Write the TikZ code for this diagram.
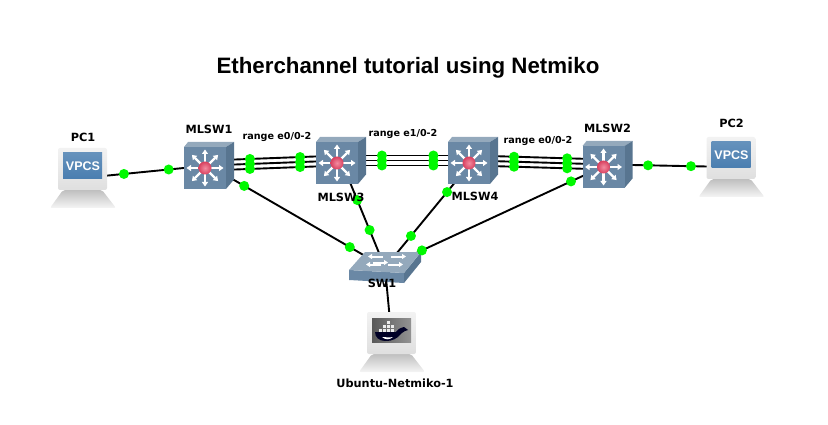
\documentclass[tikz,border=0pt]{standalone}
\usepackage{fontspec}
\setmainfont{DejaVu Sans}
\newfontfamily\titlefont{Liberation Sans}
\usetikzlibrary{arrows.meta,positioning,backgrounds}
\definecolor{linkgreen}{HTML}{00F800}
\definecolor{swfront}{HTML}{6A88A5}
\definecolor{swtop}{HTML}{94A9BC}
\definecolor{swside}{HTML}{587590}
\definecolor{pcscreen}{HTML}{4A7EB0}
\definecolor{redin}{HTML}{F28CA0}
\definecolor{redout}{HTML}{D8405F}
\newcommand{\mlswface}{%
  \begin{scope}[shift={(path picture bounding box.center)}]
    \fill[swtop] (-25,-18.5) -- (-21,-23.5) -- (25,-23.5) -- (17,-18.5) -- cycle;
    \fill[swside] (17,-18.5) -- (25,-23.5) -- (25,14) -- (17,23.5) -- cycle;
    \fill[swfront] (-25,-18.5) rectangle (17,23.5);
    \foreach \ang in {0,45,...,315}
      \draw[white,line width=2.4pt,-{Triangle[length=4.5pt,width=6pt]}] (-4,2.5) -- ++(\ang:18.5);
    \shade[inner color=redin,outer color=redout] (-4,2.5) circle (6.5);
  \end{scope}}
\newcommand{\swface}{%
  \begin{scope}[shift={(path picture bounding box.center)}]
    \fill[swfront] (-36,2.5) -- (19,5.5) -- (19,15.5) -- (-36,12.5) -- cycle;
    \fill[swside] (19,5.5) -- (36,-15.5) -- (36,-5.5) -- (19,15.5) -- cycle;
    \fill[swtop] (-20,-15.5) -- (36,-15.5) -- (19,5.5) -- (-36,2.5) -- cycle;
    \foreach \sx/\sy in {-12/-5,6/-11,3/-3}
      \draw[white,line width=2pt,-{Triangle[length=4pt,width=5pt]}] (\sx,\sy) -- ++(15,0);
    \foreach \sx/\sy in {-2/-11,-4/-3}
      \draw[white,line width=2pt,-{Triangle[length=4pt,width=5pt]}] (\sx,\sy) -- ++(-15,0);
  \end{scope}}
\newcommand{\pcbody}{%
    \shade[top color=gray!50,bottom color=gray!8,rounded corners=2pt] (-20,12) -- (19,12) -- (33,30) -- (-33,30) -- cycle;
    \shade[top color=gray!10,bottom color=gray!25,rounded corners=2pt] (-25,-30) rectangle (24,12);}
\newcommand{\pcface}{%
  \begin{scope}[shift={(path picture bounding box.center)}]
    \pcbody
    \shade[top color=pcscreen!85,bottom color=pcscreen] (-20,-25) rectangle (19,1);
  \end{scope}}
\newcommand{\dockerface}{%
  \begin{scope}[shift={(path picture bounding box.center)}]
    \pcbody
    \shade[left color=gray!70!black,right color=gray!85] (-20,-24) rectangle (19,0);
    \foreach \cx/\cy in {-13/-13,-9/-13,-5/-13,-1/-13,-9/-17,-5/-17,-1/-17,-5/-21}
      \fill[gray!15] (\cx,\cy) rectangle ++(3.2,3);
    \fill[black!85!blue] (-17,-10) -- (4,-10) .. controls (8,-15) and (10,-14) .. (12,-15) -- (16,-12)
      .. controls (11,-11) and (9,-8) .. (6,-5) .. controls (1,-1) and (-4,-1) .. (-7,-1)
      .. controls (-13,-1) and (-17,-5) .. (-17,-10) -- cycle;
    \fill[white] (-10,-5) .. controls (-6,-5) and (-3,-4) .. (1,-5) .. controls (-2,-2) and (-7,-2) .. (-10,-5) -- cycle;
  \end{scope}}
\tikzstyle{mlsw} = [rectangle, inner sep=0pt, outer sep=0pt, minimum width=50pt,
    minimum height=47pt, path picture={\mlswface}]
\tikzstyle{sw} = [rectangle, inner sep=0pt, outer sep=0pt, minimum width=72pt,
    minimum height=31pt, path picture={\swface}]
\tikzstyle{pc} = [rectangle, inner sep=0pt, outer sep=0pt, minimum width=66pt,
    minimum height=60pt, path picture={\pcface}]
\tikzstyle{docker} = [rectangle, inner sep=0pt, outer sep=0pt, minimum width=66pt,
    minimum height=60pt, path picture={\dockerface}]
\tikzstyle{vpcs} = [text=white, inner sep=0pt, font=\titlefont\fontsize{12.5}{14}\selectfont\bfseries]
\tikzstyle{link} = [black, line width=1.9pt]
\tikzstyle{dot} = [circle, fill=linkgreen, inner sep=0pt, minimum size=10pt]
\tikzstyle{devlabel} = [inner sep=0pt, font=\fontsize{11.3}{13}\selectfont\bfseries]
\tikzstyle{rangelabel} = [inner sep=0pt, font=\fontsize{9.6}{11}\selectfont\bfseries]
\begin{document}
\begin{tikzpicture}[x=1pt,y=-1pt]
  \useasboundingbox (0,0) rectangle (828,425);

  \node[pc] (pc1) at (83,178) {};
  \node[pc] (pc2) at (731.5,167) {};
  \node[mlsw] (mlsw1) at (209,165.5) {};
  \node[mlsw] (mlsw3) at (341,160.5) {};
  \node[mlsw] (mlsw4) at (473,160.5) {};
  \node[mlsw] (mlsw2) at (607.5,164.5) {};
  \node[sw] (sw1) at (385,267.5) {};
  \node[docker] (ubuntu) at (392,342) {};
  \node[vpcs] (vpcs1) at ([yshift=12pt]pc1.center) {VPCS};
  \node[vpcs] (vpcs2) at ([yshift=12pt]pc2.center) {VPCS};

  % single links
  \foreach \a/\b/\p/\q in {pc1/mlsw1/.325/.68,mlsw2/pc2/.327/.673,mlsw1/sw1/.2/.8,
      mlsw3/sw1/.37/.65,mlsw4/sw1/.295/.705,mlsw2/sw1/.164/.834} {
    \begin{scope}[on background layer]
      \draw[link] (\a.center) -- (\b.center);
    \end{scope}
    \path (\a.center) -- (\b.center) node[dot,pos=\p] (\a-\b-p) {} node[dot,pos=\q] (\a-\b-q) {};
  }
  \begin{scope}[on background layer]
    \draw[link] (sw1.center) -- (ubuntu.center);
  \end{scope}

  % etherchannel bundles
  \foreach \a/\b/\p/\q in {mlsw1/mlsw3/.31/.69,mlsw3/mlsw4/.31/.70,mlsw4/mlsw2/.305/.70}
    \foreach \s in {-5,0,5} {
      \begin{scope}[on background layer]
        \draw[link] ([yshift=\s pt]\a.center) -- ([yshift=\s pt]\b.center);
      \end{scope}
      \path ([yshift=\s pt]\a.center) -- ([yshift=\s pt]\b.center)
        node[dot,pos=\p] (\a-\b-\s-p) {} node[dot,pos=\q] (\a-\b-\s-q) {};
    }

  \node[devlabel, above=6pt of pc1] (pc1lbl) {PC1};
  \node[devlabel, above=9pt of pc2] (pc2lbl) {PC2};
  \node[devlabel, above=8pt of mlsw1] (mlsw1lbl) {MLSW1};
  \node[devlabel, above=8pt of mlsw2] (mlsw2lbl) {MLSW2};
  \node[devlabel, below=9pt of mlsw3] (mlsw3lbl) {MLSW3};
  \node[devlabel, below=8pt of mlsw4, xshift=2pt] (mlsw4lbl) {MLSW4};
  \node[devlabel] (sw1lbl) at (382,283) {SW1};
  \node[devlabel, below=7pt of ubuntu, xshift=3pt] (ubuntulbl) {Ubuntu-Netmiko-1};
  \node[rangelabel] (range1) at (277,137) {range e0/0-2};
  \node[rangelabel] (range2) at (403,134) {range e1/0-2};
  \node[rangelabel] (range3) at (538,141) {range e0/0-2};
  \node[inner sep=0pt, font=\titlefont\fontsize{22.3}{26}\selectfont\bfseries] (title) at (408,68)
    {Etherchannel tutorial using Netmiko};
\end{tikzpicture}
\end{document}
